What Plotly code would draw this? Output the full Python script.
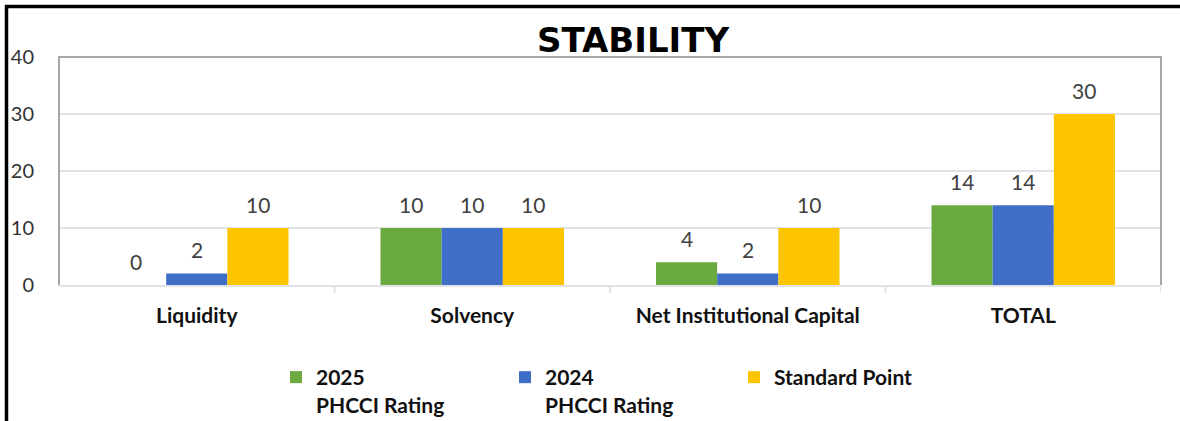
import plotly.graph_objects as go

categories = ["Liquidity", "Solvency", "Net Institutional Capital", "TOTAL"]
rating_2025 = [0, 10, 4, 14]
rating_2024 = [2, 10, 2, 14]
standard_point = [10, 10, 10, 30]
series_names = ["2025<br>PHCCI Rating", "2024<br>PHCCI Rating", "Standard Point"]
y_ticks = [0, 10, 20, 30, 40]
title_text = "STABILITY"

colors = ["#6aaa40", "#3f6ec8", "#fdc400"]
bar_w = 0.222
offsets = [-0.333, -0.111, 0.111]
series = [rating_2025, rating_2024, standard_point]
FONT = "Lato, Open Sans, sans-serif"

fig = go.Figure()
for vals, name, col, off in zip(series, series_names, colors, offsets):
    fig.add_trace(go.Bar(
        x=list(range(len(categories))), y=vals, name=name,
        marker=dict(color=col, line=dict(width=0)),
        width=bar_w, offset=off,
    ))

annotations = []
for vals, off in zip(series, offsets):
    for i, v in enumerate(vals):
        annotations.append(dict(
            x=i + off + bar_w / 2, y=v, xref="x", yref="y",
            text=str(v), showarrow=False, yshift=24,
            font=dict(family=FONT, size=21, color="#404040"),
        ))

annotations.append(dict(
    x=(633 - 59) / 1102, y=(285 - 40) / 228, xref="paper", yref="paper",
    text="<b>" + title_text + "</b>", showarrow=False,
    font=dict(family="DejaVu Sans", size=34, color="#000000"),
    xanchor="center", yanchor="middle",
))

shapes = [
    dict(type="path", xref="paper", yref="paper",
         path="M 0 0 L 0 1 L 1 1 L 1 0", line=dict(color="#a6a6a6", width=2)),
    dict(type="line", xref="paper", yref="paper",
         x0=(5 - 59) / 1102, x1=(1185 - 59) / 1102, y0=(285 - 6.5) / 228, y1=(285 - 6.5) / 228,
         line=dict(color="#000000", width=3.5)),
    dict(type="line", xref="paper", yref="paper",
         x0=(6.5 - 59) / 1102, x1=(6.5 - 59) / 1102, y0=(285 - 5) / 228, y1=(285 - 425) / 228,
         line=dict(color="#000000", width=3.5)),
]

fig.update_layout(
    width=1180, height=421,
    margin=dict(l=59, r=19, t=57, b=136, autoexpand=False),
    paper_bgcolor="white", plot_bgcolor="white",
    barmode="group",
    showlegend=True,
    legend=dict(
        orientation="h", x=(276 - 59) / 1102, y=(285 - 357) / 228,
        xanchor="left", yanchor="top", valign="top",
        font=dict(family=FONT, size=21, color="#111111", weight="bold"),
        entrywidth=184, entrywidthmode="pixels", itemwidth=30,
        bgcolor="rgba(0,0,0,0)",
    ),
    xaxis=dict(
        tickmode="array", tickvals=list(range(len(categories))), ticktext=["<b>%s</b>" % c for c in categories],
        range=[-0.5, len(categories) - 0.5],
        showgrid=False, showline=True, linecolor="#dfe2e8", linewidth=2,
        ticks="", tickfont=dict(family=FONT, size=21, color="#111111"),
        zeroline=False, ticklabelstandoff=11,
    ),
    yaxis=dict(
        range=[0, 40], tickvals=y_ticks, showgrid=True, gridcolor="#dfe2e8", gridwidth=2,
        zeroline=False, showline=False, ticks="",
        tickfont=dict(family=FONT, size=20, color="#333333"),
        ticklabelstandoff=24,
    ),
    annotations=annotations,
    shapes=shapes,
)

for b in [0.5, 1.5, 2.5, 3.5]:
    fig.add_shape(type="line", xref="x", yref="paper", x0=b, x1=b, y0=0, y1=-8 / 228,
                  line=dict(color="#dfe2e8", width=2))

fig.write_html("out.html", config={"displayModeBar": False},
               post_script="document.body.style.margin='0';")
